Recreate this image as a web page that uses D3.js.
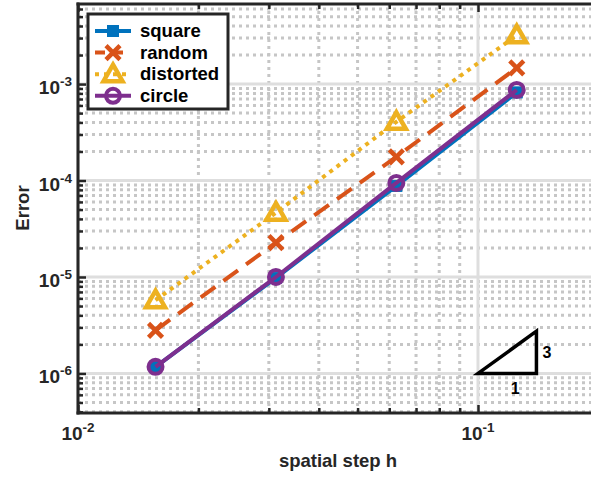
<!DOCTYPE html>
<html>
<head>
<meta charset="utf-8">
<script src="https://cdn.jsdelivr.net/npm/d3@7"></script>
<style>
  body { margin: 0; background: #fff; }
  svg { display: block; font-family: "Liberation Sans", Arial, Helvetica, sans-serif; font-weight: bold; }
</style>
</head>
<body>
<div id="chart"></div>
<script>
// data
const hValues = [1 / 64, 1 / 32, 1 / 16, 1 / 8];
const errSquare = [1.17e-6, 9.8e-6, 8.8e-5, 8.2e-4];
const errRandom = [2.8e-6, 2.27e-5, 1.76e-4, 1.47e-3];
const errDistorted = [5.74e-6, 4.64e-5, 4.06e-4, 3.2e-3];
const errCircle = [1.17e-6, 1.0e-5, 9.45e-5, 8.7e-4];
const seriesNames = ["square", "random", "distorted", "circle"];
const xTickExps = [-2, -1];
const yTickExps = [-6, -5, -4, -3];
// slope triangle: h from 0.1 to 0.14, order 3
const slopeX = [0.1, 0.14];
const slopeOrder = 3;

const width = 591, height = 477;
const colors = ["#0072BD", "#D95319", "#EDB120", "#7E2F8E"];
const dashes = [null, "18,10", "4,5", null];
const markers = ["square", "cross", "triangle", "circle"];
const allSeries = [errSquare, errRandom, errDistorted, errCircle];

const x = d3.scaleLog().domain([0.01, 0.2]).range([78, 598.4]);
const y = d3.scaleLog().domain([Math.pow(10, -6.41), Math.pow(10, -2.17)]).range([413, 4]);

const svg = d3.select("#chart").append("svg")
  .attr("width", width).attr("height", height);

// grid values
function logTicks(scale) {
  const [a, b] = scale.domain();
  const major = [], minor = [];
  for (let e = Math.floor(Math.log10(a)); e <= Math.ceil(Math.log10(b)); e++) {
    for (let k = 1; k <= 9; k++) {
      const v = k * Math.pow(10, e);
      if (v < a * 0.999 || v > b * 1.001) continue;
      (k === 1 ? major : minor).push(v);
    }
  }
  return { major, minor };
}
const xt = logTicks(x), yt = logTicks(y);

const grid = svg.append("g");
grid.selectAll(".xmin").data(xt.minor).join("line")
  .attr("x1", d => x(d)).attr("x2", d => x(d)).attr("y1", 4).attr("y2", 413)
  .attr("stroke", "#c6c6c6").attr("stroke-width", 3).attr("stroke-dasharray", "3,4");
grid.selectAll(".ymin").data(yt.minor).join("line")
  .attr("x1", 78).attr("x2", width).attr("y1", d => y(d)).attr("y2", d => y(d))
  .attr("stroke", "#c6c6c6").attr("stroke-width", 3).attr("stroke-dasharray", "3,4");
grid.selectAll(".xmaj").data(xt.major).join("line")
  .attr("x1", d => x(d)).attr("x2", d => x(d)).attr("y1", 4).attr("y2", 413)
  .attr("stroke", "#dedede").attr("stroke-width", 3);
grid.selectAll(".ymaj").data(yt.major).join("line")
  .attr("x1", 78).attr("x2", width).attr("y1", d => y(d)).attr("y2", d => y(d))
  .attr("stroke", "#dedede").attr("stroke-width", 3);

// series lines
const line = d3.line().x((d, i) => x(hValues[i])).y(d => y(d));
allSeries.forEach((s, i) => {
  svg.append("path").datum(s)
    .attr("d", line)
    .attr("fill", "none")
    .attr("stroke", colors[i])
    .attr("stroke-width", 4)
    .attr("stroke-dasharray", dashes[i]);
  svg.selectAll(null).data(s).join("g")
    .attr("transform", (d, j) => `translate(${x(hValues[j])},${y(d)})`)
    .each(function () { drawMarker(d3.select(this), markers[i], colors[i]); });
});

function drawMarker(g, type, color) {
  if (type === "square") {
    g.append("rect").attr("x", -5.5).attr("y", -5.5).attr("width", 11).attr("height", 11)
      .attr("fill", color).attr("stroke", color).attr("stroke-width", 1);
  } else if (type === "cross") {
    g.append("path").attr("d", "M-7,-7L7,7M-7,7L7,-7")
      .attr("stroke", color).attr("stroke-width", 4.5).attr("fill", "none");
  } else if (type === "triangle") {
    g.append("path").attr("d", "M0,-9.5L9.5,7L-9.5,7Z")
      .attr("stroke", color).attr("stroke-width", 4.5).attr("stroke-linejoin", "miter")
      .attr("fill", "none");
  } else {
    g.append("circle").attr("r", 7)
      .attr("stroke", color).attr("stroke-width", 4).attr("fill", "none");
  }
}

// slope triangle
const tri = [[slopeX[0], 1e-6], [slopeX[1], 1e-6],
  [slopeX[1], 1e-6 * Math.pow(slopeX[1] / slopeX[0], slopeOrder)]];
svg.append("path")
  .attr("d", "M" + tri.map(p => [x(p[0]), y(p[1])]).join("L") + "Z")
  .attr("fill", "none").attr("stroke", "#000").attr("stroke-width", 3.5)
  .attr("stroke-linejoin", "miter");
svg.append("text").attr("x", x(slopeX[1]) + 6).attr("y", (y(tri[1][1]) + y(tri[2][1])) / 2 + 6)
  .attr("font-size", 16).attr("fill", "#000").text("3");
svg.append("text").attr("x", x(Math.sqrt(slopeX[0] * slopeX[1])) + 8).attr("y", y(1e-6) + 21)
  .attr("font-size", 16).attr("fill", "#000").attr("text-anchor", "middle").text("1");

// axes: inward ticks
const axisColor = "#262626";
function styleAxis(g) {
  g.select(".domain").remove();
  g.selectAll(".tick line").attr("stroke", axisColor).attr("stroke-width", 2.5);
}
svg.append("g").attr("transform", "translate(78,0)")
  .call(d3.axisLeft(y).tickValues(yt.minor).tickSize(-5).tickFormat("")).call(styleAxis);
svg.append("g").attr("transform", "translate(78,0)")
  .call(d3.axisLeft(y).tickValues(yt.major).tickSize(-8).tickFormat("")).call(styleAxis);
svg.append("g").attr("transform", "translate(0,413)")
  .call(d3.axisBottom(x).tickValues(xt.minor).tickSize(-5).tickFormat("")).call(styleAxis);
svg.append("g").attr("transform", "translate(0,413)")
  .call(d3.axisBottom(x).tickValues(xt.major).tickSize(-8).tickFormat("")).call(styleAxis);
svg.append("g").attr("transform", "translate(0,4)")
  .call(d3.axisTop(x).tickValues(xt.minor).tickSize(-5).tickFormat("")).call(styleAxis);
svg.append("g").attr("transform", "translate(0,4)")
  .call(d3.axisTop(x).tickValues(xt.major).tickSize(-8).tickFormat("")).call(styleAxis);

svg.append("line").attr("x1", 78).attr("x2", 78).attr("y1", 2.5).attr("y2", 414.5)
  .attr("stroke", axisColor).attr("stroke-width", 3);
svg.append("line").attr("x1", 76.5).attr("x2", width).attr("y1", 413).attr("y2", 413)
  .attr("stroke", axisColor).attr("stroke-width", 3);
svg.append("line").attr("x1", 76.5).attr("x2", width).attr("y1", 4).attr("y2", 4)
  .attr("stroke", axisColor).attr("stroke-width", 3);

// tick labels with superscripts
svg.selectAll(".ylab").data(yTickExps).join("text")
  .attr("x", 72).attr("y", d => y(Math.pow(10, d)) + 10)
  .attr("text-anchor", "end").attr("font-size", 19).attr("fill", axisColor)
  .each(function (d) {
    const t = d3.select(this);
    t.append("tspan").text("10");
    t.append("tspan").attr("dy", -8).attr("font-size", 13.5).text(String(d));
  });
svg.selectAll(".xlab").data(xTickExps).join("text")
  .attr("x", d => x(Math.pow(10, d))).attr("y", 440)
  .attr("text-anchor", "middle").attr("font-size", 19).attr("fill", axisColor)
  .each(function (d) {
    const t = d3.select(this);
    t.append("tspan").text("10");
    t.append("tspan").attr("dy", -8).attr("font-size", 13.5).text(String(d));
  });

// axis titles
svg.append("text").attr("x", 338).attr("y", 467).attr("text-anchor", "middle")
  .attr("font-size", 18.5).attr("fill", axisColor).text("spatial step h");
svg.append("text").attr("transform", "translate(29,208) rotate(-90)")
  .attr("text-anchor", "middle").attr("font-size", 18.5).attr("fill", axisColor).text("Error");

// legend
const legend = svg.append("g");
legend.append("rect").attr("x", 88).attr("y", 14).attr("width", 140).attr("height", 95)
  .attr("fill", "#fff").attr("stroke", axisColor).attr("stroke-width", 3);
seriesNames.forEach((name, i) => {
  const ly = 31 + i * 21.6;
  legend.append("line").attr("x1", 95).attr("x2", 131).attr("y1", ly).attr("y2", ly)
    .attr("stroke", colors[i]).attr("stroke-width", 4)
    .attr("stroke-dasharray", i === 1 ? "10,8" : i === 2 ? "4,5" : null);
  drawMarker(legend.append("g").attr("transform", `translate(113,${ly})`), markers[i], colors[i]);
  legend.append("text").attr("x", 140).attr("y", ly + 6).attr("font-size", 18.5)
    .attr("fill", "#000").text(name);
});
</script>
</body>
</html>
